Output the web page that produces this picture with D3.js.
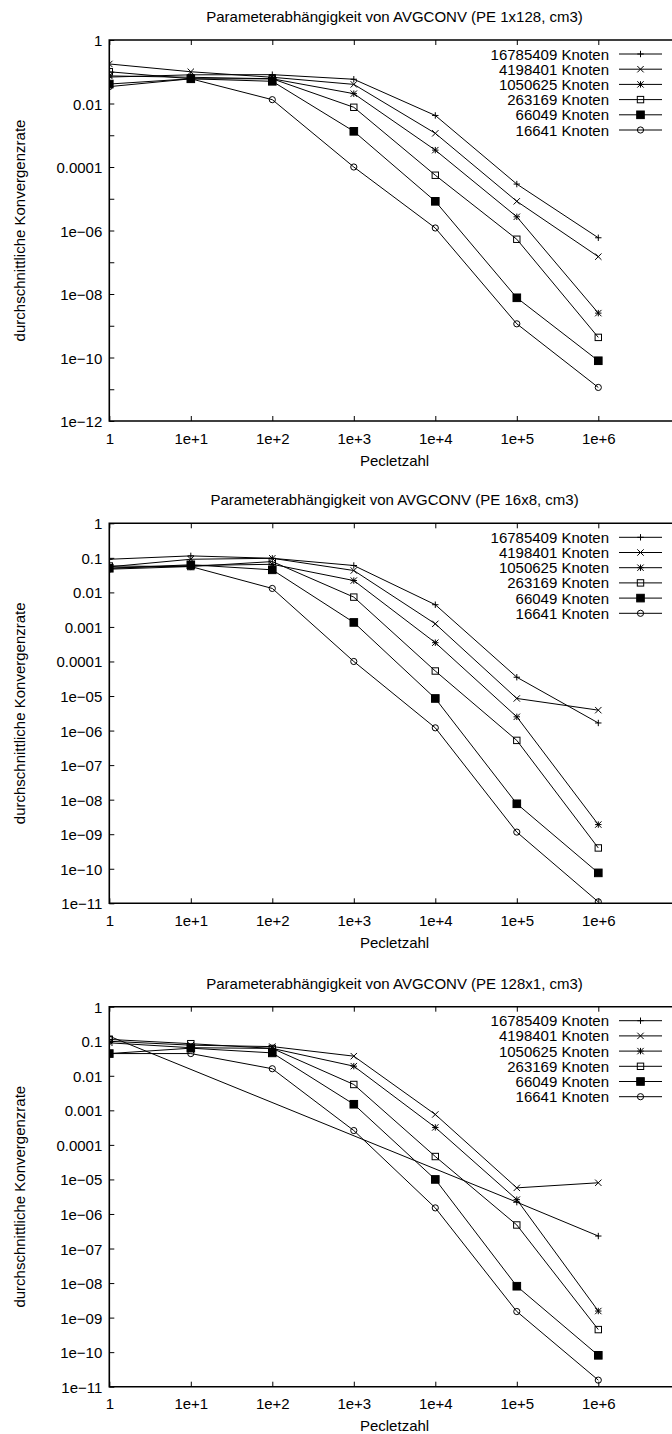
<!DOCTYPE html>
<html>
<head>
<meta charset="utf-8">
<script src="https://cdn.jsdelivr.net/npm/d3@7"></script>
<style>
  html, body { margin: 0; padding: 0; background: #fff; }
  svg { display: block; }
  text { font-family: "Liberation Sans", Arial, Helvetica, sans-serif; fill: #000; }
</style>
</head>
<body>
<svg id="chart" width="672" height="1434"></svg>
<script>
// Péclet numbers on the x axis and their tick labels
const pecletzahl = [1, 1e1, 1e2, 1e3, 1e4, 1e5, 1e6];
const xTickLabels = ["1", "1e+1", "1e+2", "1e+3", "1e+4", "1e+5", "1e+6"];

// Grid sizes (legend entries) and the point symbol used for each
const knoten = ["16785409 Knoten", "4198401 Knoten", "1050625 Knoten",
                "263169 Knoten", "66049 Knoten", "16641 Knoten"];
const symbole = ["plus", "cross", "star", "square", "filledSquare", "circle"];

// Panel titles
const titel = [
  "Parameterabhängigkeit von AVGCONV (PE 1x128, cm3)",
  "Parameterabhängigkeit von AVGCONV (PE 16x8, cm3)",
  "Parameterabhängigkeit von AVGCONV (PE 128x1, cm3)"
];

// y ticks per panel (every decade) and the labelled ones
const yTicks1 = d3.range(0, -13, -1).map(e => Math.pow(10, e));
const yLabels1 = {0: "1", "-2": "0.01", "-4": "0.0001", "-6": "1e\u221206",
                  "-8": "1e\u221208", "-10": "1e\u221210", "-12": "1e\u221212"};
const yTicks23 = d3.range(0, -12, -1).map(e => Math.pow(10, e));
const yLabels23 = {0: "1", "-1": "0.1", "-2": "0.01", "-3": "0.001", "-4": "0.0001",
                   "-5": "1e\u221205", "-6": "1e\u221206", "-7": "1e\u221207", "-8": "1e\u221208",
                   "-9": "1e\u221209", "-10": "1e\u221210", "-11": "1e\u221211"};

// Average convergence rates, one row per grid size (null = not measured)
const pe1x128 = [
  [0.068, 0.080, 0.081, 0.058, 4.2e-3, 2.9e-5, 5.9e-7],
  [0.176, 0.100, 0.067, 0.040, 1.15e-3, 8.3e-6, 1.5e-7],
  [0.074, 0.067, 0.060, 0.0204, 3.4e-4, 2.7e-6, 2.5e-9],
  [0.100, 0.060, 0.060, 0.0076, 5.5e-5, 5.3e-7, 4.3e-10],
  [0.041, 0.060, 0.050, 1.33e-3, 8.3e-6, 7.6e-9, 7.9e-11],
  [0.034, 0.060, 0.0132, 1.0e-4, 1.2e-6, 1.15e-9, 1.14e-11]
];
const pe16x8 = [
  [0.091, 0.114, 0.097, 0.060, 4.4e-3, 3.5e-5, 1.66e-6],
  [0.055, 0.091, 0.097, 0.043, 1.23e-3, 8.5e-6, 3.9e-6],
  [0.050, 0.060, 0.065, 0.022, 3.5e-4, 2.5e-6, 1.9e-9],
  [0.058, 0.056, 0.078, 0.0073, 5.3e-5, 5.2e-7, 4.0e-10],
  [0.050, 0.063, 0.045, 1.35e-3, 8.5e-6, 7.6e-9, 7.6e-11],
  [0.047, 0.056, 0.013, 1.0e-4, 1.2e-6, 1.15e-9, 1.1e-11]
];
const pe128x1 = [
  [0.140, null, null, null, null, 2.2e-6, 2.3e-7],
  [0.100, 0.077, 0.070, 0.037, 7.6e-4, 5.7e-6, 8.0e-6],
  [0.090, 0.065, 0.062, 0.019, 3.2e-4, 2.6e-6, 1.55e-9],
  [0.113, 0.085, 0.062, 0.0056, 4.6e-5, 4.8e-7, 4.5e-10],
  [0.044, 0.063, 0.046, 1.5e-3, 1.0e-5, 8.1e-9, 8.1e-11],
  [0.044, 0.044, 0.016, 2.6e-4, 1.5e-6, 1.5e-9, 1.55e-11]
];

const panels = [
  {title: titel[0], data: pe1x128, ticks: yTicks1, labels: yLabels1, yMin: 1e-12, top: 40, h: 381},
  {title: titel[1], data: pe16x8, ticks: yTicks23, labels: yLabels23, yMin: 1e-11, top: 523.3, h: 380},
  {title: titel[2], data: pe128x1, ticks: yTicks23, labels: yLabels23, yMin: 1e-11, top: 1006.7, h: 380}
];

const svg = d3.select("#chart");
svg.append("rect").attr("width", 672).attr("height", 1434).attr("fill", "#fff");

const left = 109.3, rightAt1e7 = 679.8;
const fontSize = 15;

// Draws one point symbol centred at (0,0) inside g
function symbol(g, type) {
  const s = 3.2;
  if (type === "plus") {
    g.append("path").attr("d", `M${-s},0H${s}M0,${-s}V${s}`);
  } else if (type === "cross") {
    g.append("path").attr("d", `M${-s},${-s}L${s},${s}M${-s},${s}L${s},${-s}`);
  } else if (type === "star") {
    g.append("path").attr("d", `M${-s},0H${s}M0,${-s}V${s}M${-s},${-s}L${s},${s}M${-s},${s}L${s},${-s}`);
  } else if (type === "square") {
    g.append("rect").attr("x", -s).attr("y", -s).attr("width", 2 * s).attr("height", 2 * s)
      .attr("fill", "none");
  } else if (type === "filledSquare") {
    g.append("rect").attr("x", -3.8).attr("y", -3.8).attr("width", 7.6).attr("height", 7.6)
      .attr("fill", "#000");
  } else if (type === "circle") {
    g.append("circle").attr("r", 3.1).attr("fill", "none");
  }
  g.selectAll("path, rect, circle").attr("stroke", "#000").attr("stroke-width", 1);
}

panels.forEach((p, pi) => {
  const top = p.top, bottom = p.top + p.h;
  const x = d3.scaleLog().domain([1, 1e7]).range([left, rightAt1e7]);
  const y = d3.scaleLog().domain([p.yMin, 1]).range([bottom, top]);
  const g = svg.append("g");

  const clipId = "clip" + pi;
  g.append("clipPath").attr("id", clipId)
    .append("rect").attr("x", left).attr("y", top)
    .attr("width", rightAt1e7 - left).attr("height", p.h);

  // Title
  g.append("text")
    .attr("x", (left + rightAt1e7) / 2).attr("y", top - 23.5)
    .attr("text-anchor", "middle").attr("dominant-baseline", "central")
    .style("font-size", fontSize + "px")
    .text(p.title);

  // Bottom axis with labels, ticks pointing inward
  const xb = g.append("g").attr("transform", `translate(0,${bottom})`)
    .call(d3.axisBottom(x).tickValues(pecletzahl.concat([1e7]))
      .tickFormat(d => { const i = pecletzahl.indexOf(d); return i >= 0 ? xTickLabels[i] : ""; })
      .tickSizeInner(-5).tickSizeOuter(0).tickPadding(7));
  // Top mirror ticks
  const xt = g.append("g").attr("transform", `translate(0,${top})`)
    .call(d3.axisTop(x).tickValues(pecletzahl.concat([1e7])).tickFormat("")
      .tickSizeInner(-5).tickSizeOuter(0));
  // Left axis
  const yl = g.append("g").attr("transform", `translate(${left},0)`)
    .call(d3.axisLeft(y).tickValues(p.ticks)
      .tickFormat(d => { const e = Math.round(Math.log10(d)); return p.labels[e] || ""; })
      .tickSizeInner(-5).tickSizeOuter(0).tickPadding(7));
  [xb, xt, yl].forEach(a => {
    a.select(".domain").remove();
    a.selectAll(".tick line").attr("stroke", "#000").attr("stroke-width", 1);
    a.selectAll("text").attr("font-family", null).style("font-size", fontSize + "px").attr("fill", "#000");
  });
  xb.selectAll(".tick text").attr("dy", null).attr("y", 17).attr("dominant-baseline", "central");
  yl.selectAll(".tick text").attr("dy", null).attr("x", -7).attr("dominant-baseline", "central");

  // Frame
  g.append("path")
    .attr("d", `M${rightAt1e7},${top}H${left}V${bottom}H${rightAt1e7}`)
    .attr("fill", "none").attr("stroke", "#000").attr("stroke-width", 1.6);

  // Axis titles
  g.append("text")
    .attr("x", (left + rightAt1e7) / 2).attr("y", bottom + 39)
    .attr("text-anchor", "middle").attr("dominant-baseline", "central")
    .style("font-size", fontSize + "px").text("Pecletzahl");
  g.append("text")
    .attr("transform", `translate(19.5,${(top + bottom) / 2}) rotate(-90)`)
    .attr("text-anchor", "middle").attr("dominant-baseline", "central")
    .style("font-size", fontSize + "px").text("durchschnittliche Konvergenzrate");

  // Series lines and markers
  const plot = g.append("g").attr("clip-path", `url(#${clipId})`);
  const line = d3.line().x(d => x(d[0])).y(d => y(d[1]));
  p.data.forEach((row, si) => {
    const pts = pecletzahl.map((pe, i) => [pe, row[i]]).filter(d => d[1] != null);
    plot.append("path").datum(pts).attr("d", line)
      .attr("fill", "none").attr("stroke", "#000").attr("stroke-width", 1);
    pts.forEach(d => {
      symbol(plot.append("g").attr("transform", `translate(${x(d[0])},${y(d[1])})`), symbole[si]);
    });
  });

  // Legend
  knoten.forEach((name, si) => {
    const ly = top + 14 + si * 15.2;
    g.append("text").attr("x", 609).attr("y", ly)
      .attr("text-anchor", "end").attr("dominant-baseline", "central")
      .style("font-size", fontSize + "px").text(name);
    g.append("line").attr("x1", 619).attr("x2", 662).attr("y1", ly).attr("y2", ly)
      .attr("stroke", "#000").attr("stroke-width", 1);
    symbol(g.append("g").attr("transform", `translate(640.5,${ly})`), symbole[si]);
  });
});
</script>
</body>
</html>
